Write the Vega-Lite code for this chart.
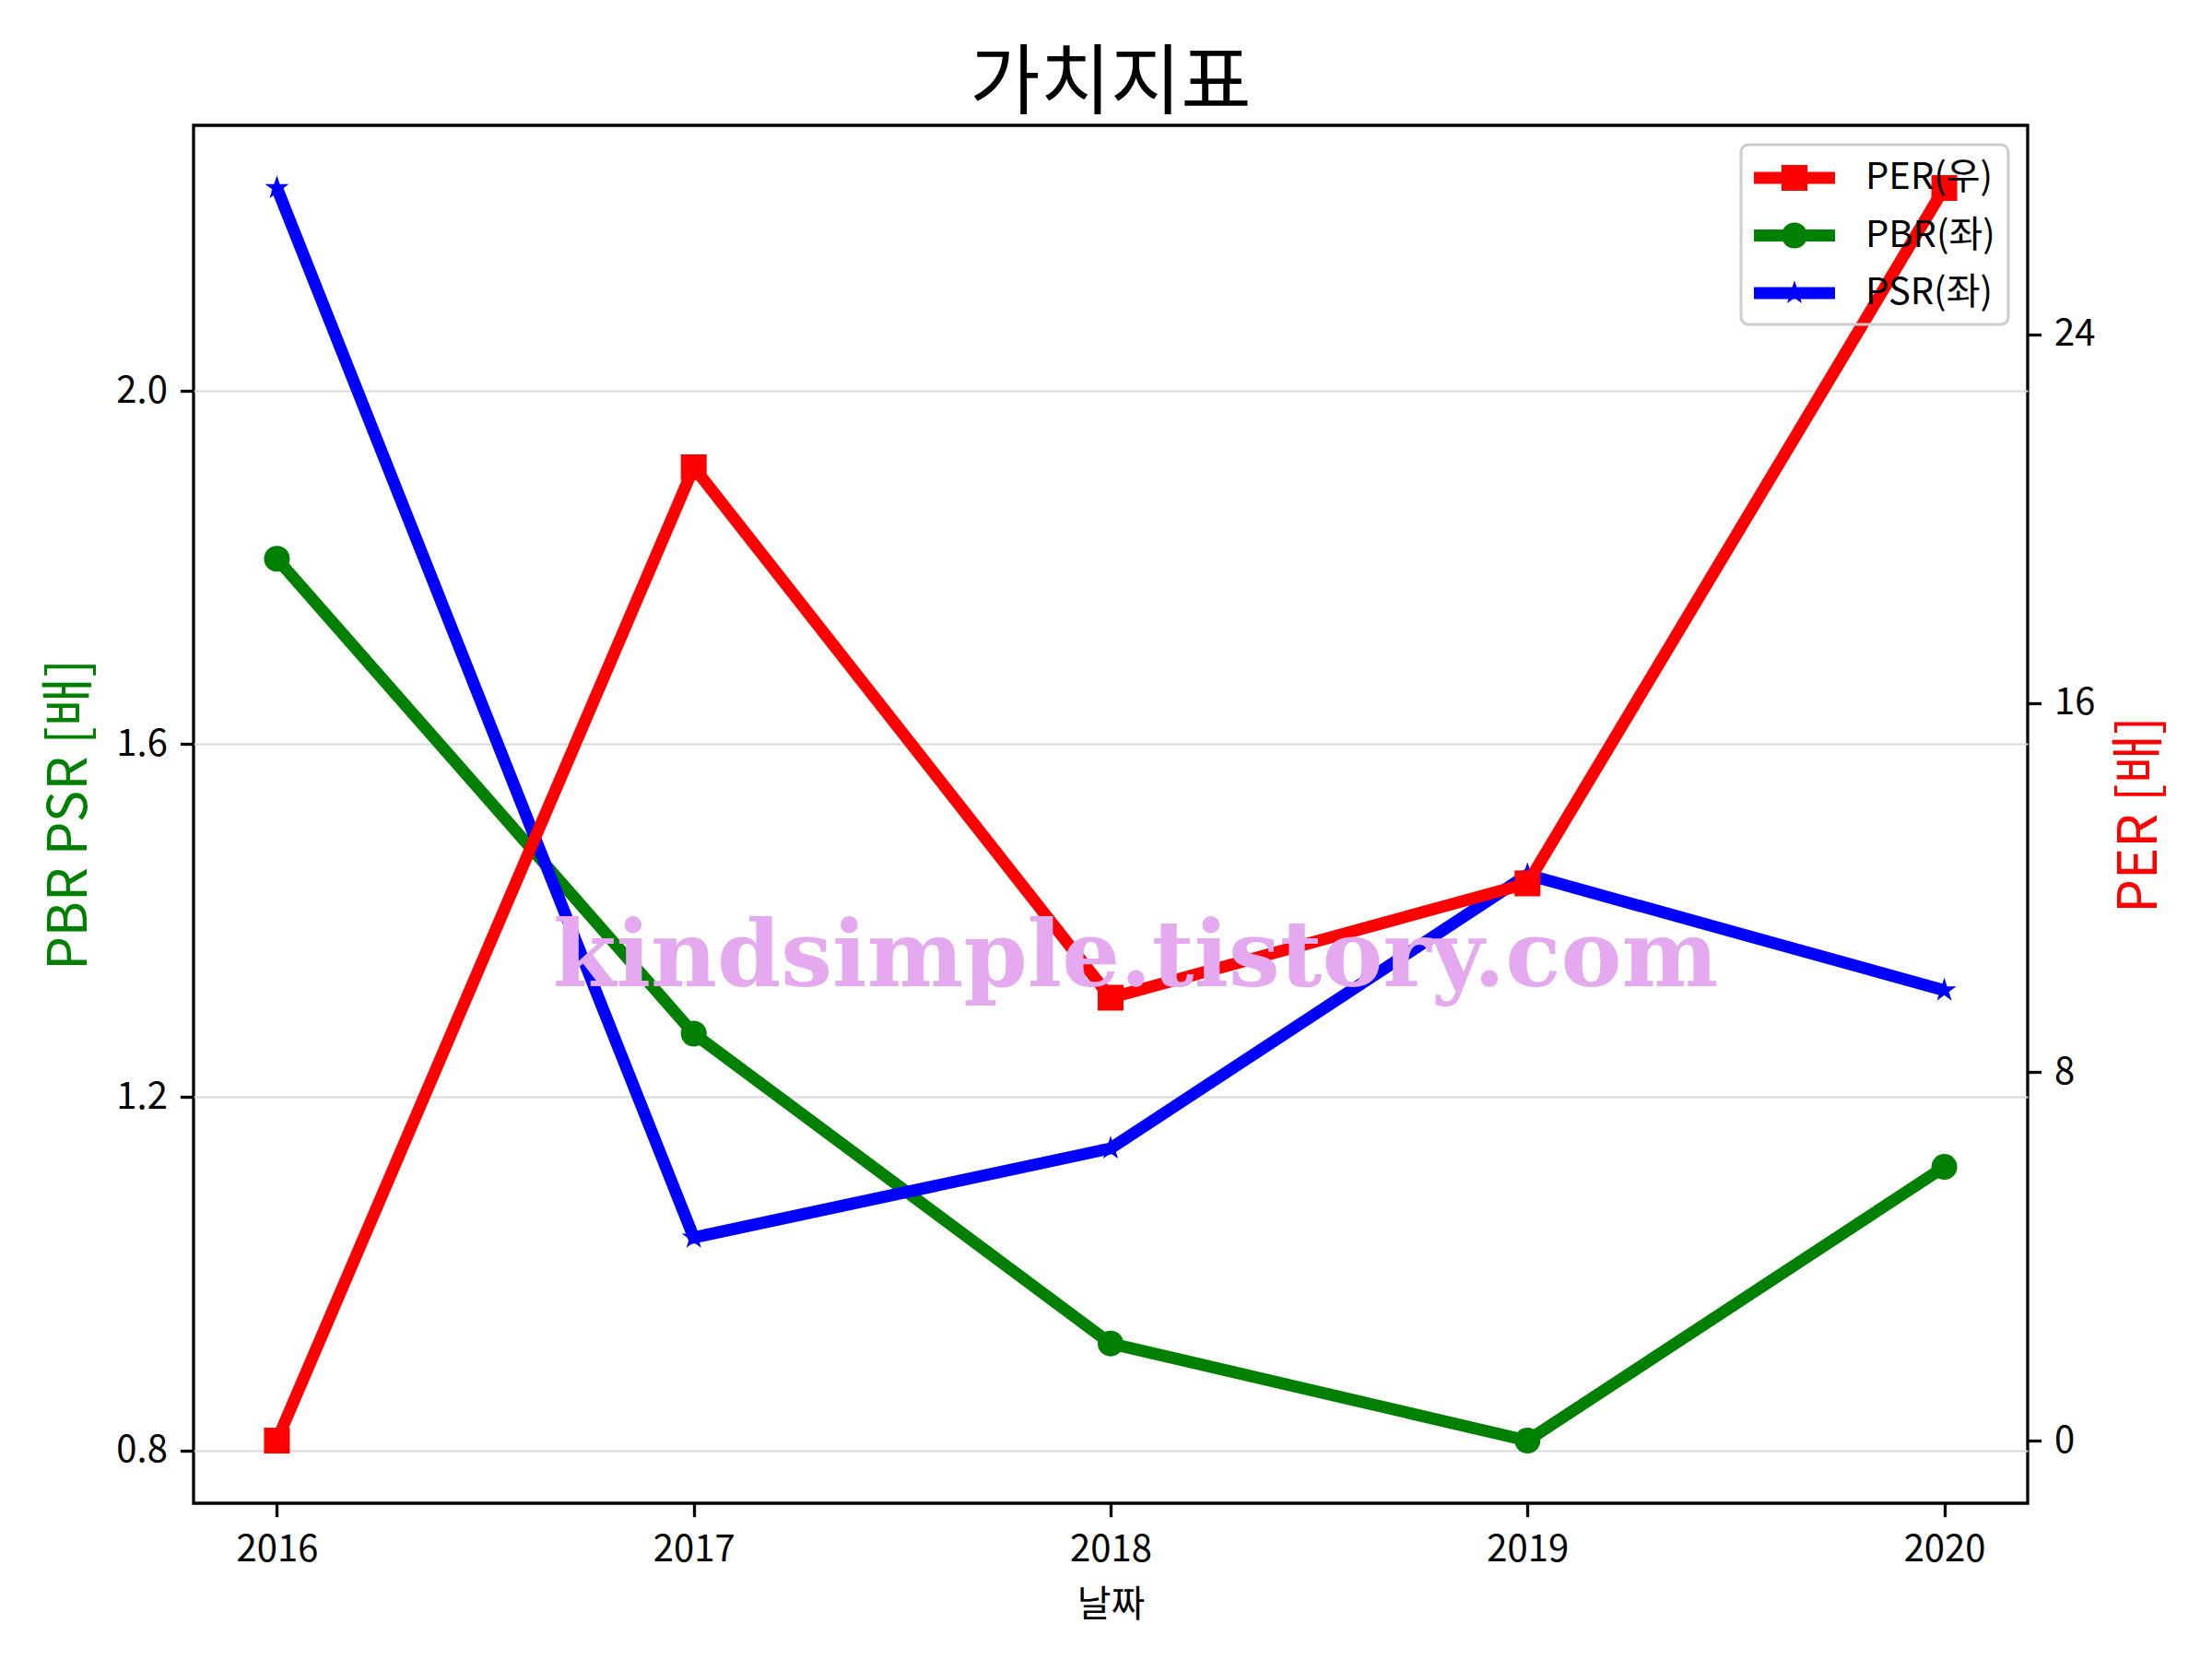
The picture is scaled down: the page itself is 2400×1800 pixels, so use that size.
{
  "$schema": "https://vega.github.io/schema/vega-lite/v6.json",
  "width": 1990,
  "height": 1495,
  "autosize": {"type": "none"},
  "padding": {"left": 210, "top": 136, "right": 200, "bottom": 169},
  "background": "white",
  "config": {
    "font": "Noto Sans CJK KR",
    "view": {"stroke": "black", "strokeWidth": 3.3},
    "axis": {
      "domain": false,
      "tickColor": "black",
      "tickWidth": 3.3,
      "tickSize": 14.6,
      "labelFont": "Noto Sans CJK KR",
      "labelFontSize": 40,
      "labelColor": "black",
      "titleFont": "Noto Sans CJK KR",
      "titleFontWeight": "normal",
      "titleColor": "black",
      "labelPadding": 12
    },
    "legend": {
      "orient": "top-right",
      "offset": 21,
      "padding": 14,
      "strokeColor": "#cccccc",
      "strokeWidth": 3,
      "cornerRadius": 8,
      "labelFont": "Noto Sans CJK KR",
      "labelFontSize": 40,
      "labelColor": "black",
      "symbolSize": 1936,
      "symbolOpacity": 1,
      "symbolStrokeWidth": 0,
      "labelOffset": 77,
      "rowPadding": 20.5
    }
  },
  "title": {
    "text": "가치지표",
    "font": "Noto Sans CJK KR",
    "fontSize": 83,
    "fontWeight": "normal",
    "color": "black",
    "offset": 7,
    "dy": 88,
    "baseline": "bottom",
    "anchor": "middle",
    "frame": "group"
  },
  "datasets": {
    "main": [
      {"year": 2016, "series": "PER(우)", "value": 0.0},
      {"year": 2017, "series": "PER(우)", "value": 21.12},
      {"year": 2018, "series": "PER(우)", "value": 9.61},
      {"year": 2019, "series": "PER(우)", "value": 12.09},
      {"year": 2020, "series": "PER(우)", "value": 27.18},
      {"year": 2016, "series": "PBR(좌)", "value": 1.81},
      {"year": 2017, "series": "PBR(좌)", "value": 1.272},
      {"year": 2018, "series": "PBR(좌)", "value": 0.921},
      {"year": 2019, "series": "PBR(좌)", "value": 0.811},
      {"year": 2020, "series": "PBR(좌)", "value": 1.121},
      {"year": 2016, "series": "PSR(좌)", "value": 2.23},
      {"year": 2017, "series": "PSR(좌)", "value": 1.041},
      {"year": 2018, "series": "PSR(좌)", "value": 1.142},
      {"year": 2019, "series": "PSR(좌)", "value": 1.452},
      {"year": 2020, "series": "PSR(좌)", "value": 1.321}
    ]
  },
  "data": {"name": "main"},
  "encoding": {
    "x": {
      "field": "year",
      "type": "quantitative",
      "scale": {"domain": [2015.8, 2020.2], "nice": false, "zero": false},
      "axis": {
        "values": [2016, 2017, 2018, 2019, 2020],
        "format": "d",
        "title": "날짜",
        "titleFontSize": 40,
        "titlePadding": 20,
        "grid": false,
        "labelPadding": 16
      }
    }
  },
  "layer": [
    {
      "encoding": {
        "y": {
          "field": "value",
          "type": "quantitative",
          "scale": {"domain": [0.74, 2.301], "nice": false, "zero": false},
          "axis": {
            "orient": "left",
            "values": [0.8, 1.2, 1.6, 2.0],
            "format": ".1f",
            "title": "PBR PSR [배]",
            "titleColor": "#008000",
            "titleFontSize": 58,
            "titlePadding": 20,
            "grid": true,
            "gridColor": "#d9d9d9",
            "gridWidth": 2,
            "labelPadding": 14
          }
        }
      },
      "layer": [
        {
          "transform": [{"filter": "datum.series === 'PBR(좌)'"}],
          "mark": {"type": "line", "color": "#008000", "strokeWidth": 13},
          "encoding": {}
        },
        {
          "transform": [{"filter": "datum.series === 'PBR(좌)'"}],
          "mark": {"type": "point", "shape": "circle", "filled": true, "color": "#008000", "size": 784, "opacity": 1}
        },
        {
          "transform": [{"filter": "datum.series === 'PSR(좌)'"}],
          "mark": {"type": "line", "color": "#0000ff", "strokeWidth": 13},
          "encoding": {}
        },
        {
          "transform": [{"filter": "datum.series === 'PSR(좌)'"}],
          "mark": {"type": "point", "shape": "M0,-1L0.2245,-0.309L0.951,-0.309L0.363,0.118L0.588,0.809L0,0.382L-0.588,0.809L-0.363,0.118L-0.951,-0.309L-0.2245,-0.309Z", "filled": true, "color": "#0000ff", "size": 750, "opacity": 1}
        }
      ]
    },
    {
      "encoding": {
        "y": {
          "field": "value",
          "type": "quantitative",
          "scale": {"domain": [-1.359, 28.539], "nice": false, "zero": false},
          "axis": {
            "orient": "right",
            "values": [0, 8, 16, 24],
            "format": "d",
            "title": "PER [배]",
            "titleColor": "#ff0000",
            "titleFontSize": 58,
            "titleAngle": 270,
            "titleBaseline": "top",
            "titlePadding": 20,
            "grid": false,
            "labelPadding": 14
          }
        }
      },
      "layer": [
        {
          "mark": {"type": "point", "filled": true, "opacity": 0, "size": 1936},
          "encoding": {
            "color": {
              "field": "series",
              "type": "nominal",
              "scale": {"domain": ["PER(우)", "PBR(좌)", "PSR(좌)"], "range": ["#ff0000", "#008000", "#0000ff"]},
              "legend": {"title": null}
            },
            "shape": {
              "field": "series",
              "type": "nominal",
              "scale": {
                "domain": ["PER(우)", "PBR(좌)", "PSR(좌)"],
                "range": [
                  "M-1,-0.3H3V0.3H-1Z M0.36,-0.64H1.64V0.64H0.36Z",
                  "M-1,-0.3H3V0.3H-1Z M0.36,0 A0.64,0.64 0 1,1 1.64,0 A0.64,0.64 0 1,1 0.36,0 Z",
                  "M-1,-0.3H3V0.3H-1Z M1,-0.62L1.14,-0.19L1.59,-0.19L1.225,0.073L1.365,0.5L1,0.237L0.635,0.5L0.775,0.073L0.41,-0.19L0.86,-0.19Z"
                ]
              },
              "legend": {"title": null}
            }
          }
        },
        {
          "transform": [{"filter": "datum.series === 'PER(우)'"}],
          "mark": {"type": "line", "color": "#ff0000", "strokeWidth": 13},
          "encoding": {}
        },
        {
          "transform": [{"filter": "datum.series === 'PER(우)'"}],
          "mark": {"type": "point", "shape": "square", "filled": true, "color": "#ff0000", "size": 784, "opacity": 1}
        },
        {
          "transform": [{"filter": "datum.series === 'PER(우)' && datum.year === 2018"}],
          "mark": {"type": "text", "text": "kindsimple.tistory.com", "font": "DejaVu Serif", "fontWeight": "bold", "fontSize": 99, "color": "#e4a9ee", "align": "center", "baseline": "alphabetic"},
          "encoding": {
            "x": {"datum": 2018.06, "type": "quantitative"},
            "y": {"datum": 9.864, "type": "quantitative"}
          }
        }
      ]
    }
  ],
  "resolve": {"scale": {"y": "independent"}}
}
